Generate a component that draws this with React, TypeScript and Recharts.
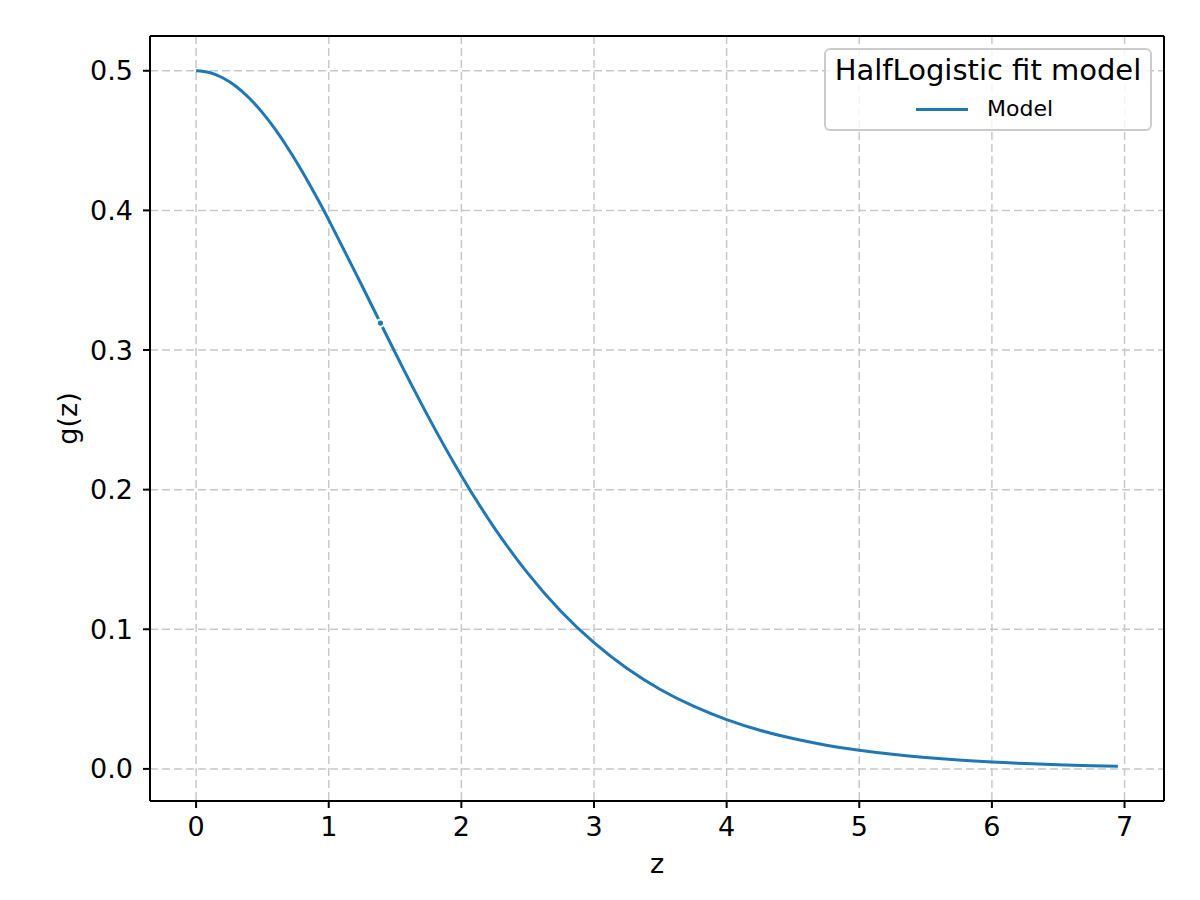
import { ComposedChart, Line, Scatter, XAxis, YAxis, CartesianGrid, ReferenceLine } from 'recharts'

const Z_VALUES = [
  0, 0.1, 0.2, 0.3, 0.4, 0.5, 0.6, 0.7, 0.8, 0.9, 1, 1.25, 1.5, 1.75, 2, 2.25, 2.5, 2.75, 3, 3.25, 3.5, 3.75, 4, 4.25,
  4.5, 4.75, 5, 5.25, 5.5, 5.75, 6, 6.25, 6.5, 6.75, 6.95,
]
const G_VALUES = [
  0.5, 0.4988, 0.495, 0.4889, 0.4805, 0.47, 0.4576, 0.4434, 0.4278, 0.411, 0.3932, 0.3462, 0.2983, 0.2523, 0.21, 0.1725,
  0.1402, 0.1129, 0.0904, 0.0719, 0.0569, 0.0449, 0.0353, 0.0277, 0.0217, 0.017, 0.0133, 0.0104, 0.0081, 0.0063,
  0.0049, 0.0038, 0.003, 0.0023, 0.0019,
]
const POINT_Z = [1.39]
const POINT_G = [0.3193]

const X_TICKS = [0, 1, 2, 3, 4, 5, 6, 7]
const Y_TICKS = [0, 0.1, 0.2, 0.3, 0.4, 0.5]
const X_DOMAIN = [-0.3475, 7.2975]
const Y_DOMAIN = [-0.023, 0.5249]

const LEGEND_TITLE = 'HalfLogistic fit model'
const SERIES_NAME = 'Model'
const BLUE = '#1f77b4'
const FONT = '"DejaVu Sans", sans-serif'

const curve = Z_VALUES.map((z, i) => ({ z, g: G_VALUES[i] }))
const points = POINT_Z.map((z, i) => ({ z, g: POINT_G[i] }))

const tickStyle = { fill: '#000', fontSize: 27, fontFamily: FONT }
const spine = { stroke: '#000', strokeWidth: 2 }

function YLabel({ viewBox }: any) {
  const cy = viewBox.y + viewBox.height / 2
  return (
    <text
      x={67}
      y={cy}
      transform={`rotate(-90, 67, ${cy})`}
      textAnchor="middle"
      dominantBaseline="central"
      fontSize={27}
      fontFamily={FONT}
      fill="#000"
    >
      g(z)
    </text>
  )
}

export default function App() {
  return (
    <div style={{ position: 'absolute', left: 0, top: 0, width: 1200, height: 900, background: '#fff', fontFamily: FONT }}>
      <ComposedChart width={1200} height={900} margin={{ top: 36, right: 36, left: 0, bottom: 0 }}>
        <CartesianGrid stroke="#c8c8c8" strokeWidth={1.5} strokeDasharray="8 4" />
        <XAxis
          type="number"
          dataKey="z"
          domain={X_DOMAIN}
          ticks={X_TICKS}
          allowDataOverflow
          height={99}
          tick={tickStyle}
          tickSize={7}
          tickMargin={9}
          axisLine={spine}
          tickLine={spine}
          label={{ value: 'z', position: 'insideBottom', offset: 27, fontSize: 27, fontFamily: FONT, fill: '#000' }}
        />
        <YAxis
          type="number"
          dataKey="g"
          domain={Y_DOMAIN}
          ticks={Y_TICKS}
          allowDataOverflow
          width={150}
          tick={tickStyle}
          tickSize={7}
          tickMargin={10}
          tickFormatter={(v: number) => v.toFixed(1)}
          axisLine={spine}
          tickLine={spine}
          label={<YLabel />}
        />
        <ReferenceLine x={X_DOMAIN[1]} stroke="#000" strokeWidth={2} ifOverflow="visible" />
        <ReferenceLine y={Y_DOMAIN[1]} stroke="#000" strokeWidth={2} ifOverflow="visible" />
        <Line
          data={curve}
          dataKey="g"
          type="natural"
          stroke={BLUE}
          strokeWidth={3}
          dot={false}
          isAnimationActive={false}
        />
        <Scatter
          data={points}
          dataKey="g"
          isAnimationActive={false}
          shape={(p: any) => <circle cx={p.cx} cy={p.cy} r={3.6} fill={BLUE} stroke="#fff" strokeWidth={2} />}
        />
      </ComposedChart>
      <div
        style={{
          position: 'absolute',
          left: 824,
          top: 48,
          width: 328,
          height: 83,
          boxSizing: 'border-box',
          border: '2px solid #cccccc',
          borderRadius: 6,
          background: 'rgba(255,255,255,0.8)',
        }}
      >
        <div
          style={{
            position: 'absolute',
            left: 0,
            right: 0,
            top: 1.5,
            height: 36,
            lineHeight: '36px',
            textAlign: 'center',
            fontSize: 29,
            whiteSpace: 'nowrap',
          }}
        >
          {LEGEND_TITLE}
        </div>
        <div style={{ position: 'absolute', left: 90, top: 57.5, width: 52, height: 3, background: BLUE }} />
        <div
          style={{ position: 'absolute', left: 161, top: 44, height: 30, lineHeight: '30px', fontSize: 22, whiteSpace: 'nowrap' }}
        >
          {SERIES_NAME}
        </div>
      </div>
    </div>
  )
}
